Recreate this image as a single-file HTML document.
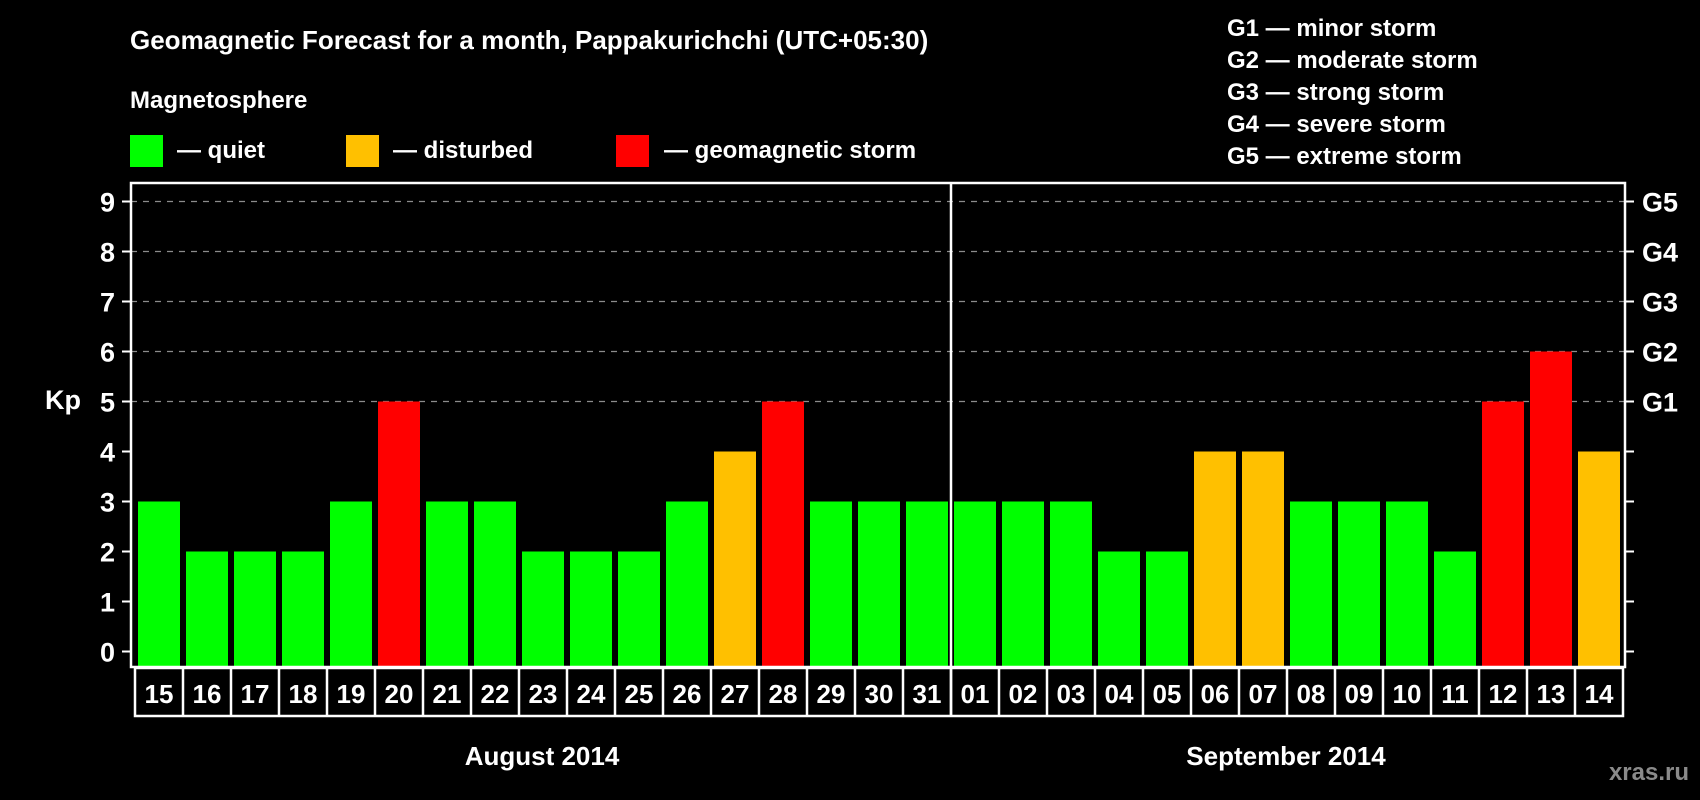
<!DOCTYPE html>
<html><head><meta charset="utf-8"><style>
html,body{margin:0;padding:0;background:#000;}
svg{display:block;font-family:"Liberation Sans",Arial,sans-serif;font-weight:bold;}
</style></head><body>
<svg id="chart" width="1700" height="800" viewBox="0 0 1700 800" xmlns="http://www.w3.org/2000/svg">
<rect x="0" y="0" width="1700" height="800" fill="#000"/>
<text x="130" y="49" fill="#fff" font-size="26">Geomagnetic Forecast for a month, Pappakurichchi (UTC+05:30)</text>
<text x="130" y="108" fill="#fff" font-size="24">Magnetosphere</text>
<g>
<rect x="130" y="135" width="33" height="32" fill="#00ff00"/>
<text x="177" y="158" fill="#fff" font-size="24">— quiet</text>
<rect x="346" y="135" width="33" height="32" fill="#ffc000"/>
<text x="393" y="158" fill="#fff" font-size="24">— disturbed</text>
<rect x="616" y="135" width="33" height="32" fill="#ff0000"/>
<text x="664" y="158" fill="#fff" font-size="24">— geomagnetic storm</text>
</g>
<g fill="#fff" font-size="24">
<text x="1227" y="36">G1 — minor storm</text>
<text x="1227" y="68">G2 — moderate storm</text>
<text x="1227" y="100">G3 — strong storm</text>
<text x="1227" y="132">G4 — severe storm</text>
<text x="1227" y="164">G5 — extreme storm</text>
</g>
<text x="63" y="409" fill="#fff" font-size="27" text-anchor="middle">Kp</text>
<g id="grid"></g><g id="bars"></g><g id="axes"></g><g id="xlabels"></g>
<text x="542" y="765" fill="#fff" font-size="26" text-anchor="middle">August 2014</text>
<text x="1286" y="765" fill="#fff" font-size="26" text-anchor="middle">September 2014</text>
<text x="1689" y="780" fill="#8a8a8a" font-size="24" text-anchor="end">xras.ru</text>
</svg>
<script>
const days = ["15","16","17","18","19","20","21","22","23","24","25","26","27","28","29","30","31","01","02","03","04","05","06","07","08","09","10","11","12","13","14"];
const kpValues = [3,2,2,2,3,5,3,3,2,2,2,3,4,5,3,3,3,3,3,3,2,2,4,4,3,3,3,2,5,6,4];
const yTicks = [0,1,2,3,4,5,6,7,8,9];
const gLabels = ["G1","G2","G3","G4","G5"];
const gLevels = [5,6,7,8,9];

const NS="http://www.w3.org/2000/svg";
const frameL=131, frameR=1625, frameT=183, frameB=667;
const slot0=135, pitch=48, barW=42;
function yScale(v){return 651.5 - v*50;}
function xScale(i){return slot0 + i*pitch;}
function mk(tag, attrs, parent){const e=document.createElementNS(NS,tag);for(const k in attrs)e.setAttribute(k,attrs[k]);parent.appendChild(e);return e;}
const grid=document.getElementById('grid'), bars=document.getElementById('bars'), axes=document.getElementById('axes'), xl=document.getElementById('xlabels');

gLevels.forEach((lv,i)=>{
  const l=mk('line',{x1:frameL,x2:frameR,y1:yScale(lv),y2:yScale(lv),stroke:'#8c8c8c','stroke-width':1.2,'stroke-dasharray':'6,6'},grid);
  
  
  const t=mk('text',{x:1642,y:yScale(lv)+10,fill:'#fff','font-size':27},axes);
  t.textContent=gLabels[i];
  
  
});

kpValues.forEach((v,i)=>{
  const c = v>=5 ? '#ff0000' : (v>=4 ? '#ffc000' : '#00ff00');
  const r=mk('rect',{x:xScale(i)+3,y:yScale(v),width:barW,height:frameB-yScale(v),fill:c},bars);
  
  
});

yTicks.forEach(v=>{
  mk('line',{x1:122,x2:frameL,y1:yScale(v),y2:yScale(v),stroke:'#fff','stroke-width':2},axes);
  mk('line',{x1:frameR,x2:1634,y1:yScale(v),y2:yScale(v),stroke:'#fff','stroke-width':2},axes);
  const t=mk('text',{x:115,y:yScale(v)+10,fill:'#fff','font-size':27,'text-anchor':'end'},axes);
  t.textContent=v;
  
  
});

const fr=mk('rect',{x:frameL,y:frameT,width:frameR-frameL,height:frameB-frameT,fill:'none',stroke:'#fff','stroke-width':2.5},axes);


const dv=mk('line',{x1:xScale(17),x2:xScale(17),y1:frameT,y2:716,stroke:'#fff','stroke-width':2.5},axes);



const lb=mk('rect',{x:slot0,y:frameB+1,width:pitch*days.length,height:48,fill:'none',stroke:'#fff','stroke-width':2.5},xl);


days.forEach((d,i)=>{
  if(i>0) mk('line',{x1:xScale(i),x2:xScale(i),y1:frameB,y2:716,stroke:'#fff','stroke-width':2.5},xl);
  const t=mk('text',{x:xScale(i)+pitch/2,y:703,fill:'#fff','font-size':26,'text-anchor':'middle'},xl);
  t.textContent=d;
  
  
});
</script>
</body></html>
